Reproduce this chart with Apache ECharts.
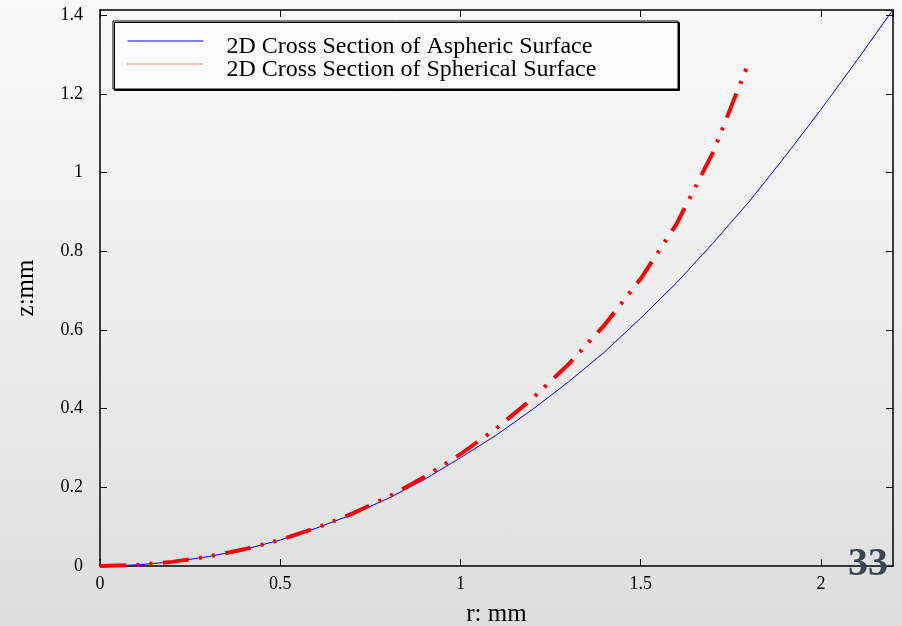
<!DOCTYPE html>
<html>
<head>
<meta charset="utf-8">
<script src="https://cdn.jsdelivr.net/npm/echarts@6/dist/echarts.min.js"></script>
<style>
  html, body { margin: 0; padding: 0; }
  body { width: 902px; height: 626px; background: linear-gradient(to bottom, #f9f9f9 0%, #ececec 55%, #dcdedd 100%); }
  #chart { width: 902px; height: 626px; }
</style>
</head>
<body>
<div id="chart"></div>
<script>
// Radial coordinate r (mm) and sag z (mm) for both surface profiles
const rAspheric = [0, 0.1, 0.2, 0.3, 0.4, 0.5, 0.6, 0.7, 0.8, 0.9, 1.0, 1.1, 1.2, 1.3, 1.4, 1.5, 1.6, 1.7, 1.8, 1.9, 2.0, 2.1, 2.2];
const zAspheric = [0, 0.0026, 0.0105, 0.0237, 0.042, 0.066, 0.096, 0.131, 0.172, 0.22, 0.275, 0.333, 0.398, 0.468, 0.544, 0.63, 0.72, 0.82, 0.925, 1.04, 1.16, 1.285, 1.414];

const rSpherical = [0, 0.1, 0.2, 0.3, 0.4, 0.5, 0.6, 0.7, 0.8, 0.9, 1.0, 1.1, 1.2, 1.3, 1.4, 1.5, 1.6, 1.7, 1.8];
const zSpherical = [0, 0.0026, 0.0105, 0.0237, 0.0424, 0.0665, 0.0967, 0.133, 0.176, 0.226, 0.284, 0.35, 0.426, 0.513, 0.613, 0.73, 0.87, 1.05, 1.28];

const seriesNames = ['2D Cross Section of Aspheric Surface', '2D Cross Section of Spherical Surface'];
const pageNumber = '33';

const serif = '"Liberation Serif", "Times New Roman", serif';
const pairs = (xs, ys) => xs.map((x, i) => [x, ys[i]]);

const chart = echarts.init(document.getElementById('chart'), null, { renderer: 'canvas' });

const axisLine = { show: true, onZero: false, lineStyle: { color: '#000', width: 1.5 } };
const axisTick = { show: true, inside: true, length: 7, lineStyle: { color: '#000', width: 1 } };

chart.setOption({
  backgroundColor: 'transparent',
  animation: false,
  grid: { left: 100, right: 9, top: 10, bottom: 60, containLabel: false, outerBoundsMode: 'none' },
  xAxis: [
    {
      type: 'value', position: 'bottom', min: 0, max: 2.2, interval: 0.5,
      name: 'r: mm', nameLocation: 'middle', nameGap: 36,
      nameTextStyle: { fontFamily: serif, fontSize: 25, color: '#000' },
      axisLine, axisTick,
      axisLabel: { showMaxLabel: false, margin: 9, fontFamily: serif, fontSize: 18, color: '#000' },
      splitLine: { show: false }
    },
    {
      type: 'value', position: 'top', min: 0, max: 2.2, interval: 0.5,
      axisLine, axisTick,
      axisLabel: { show: false }, splitLine: { show: false }
    }
  ],
  yAxis: [
    {
      type: 'value', position: 'left', min: 0, max: 1.413, interval: 0.2,
      name: 'z:mm', nameLocation: 'middle', nameGap: 61, nameRotate: 90,
      nameTextStyle: { fontFamily: serif, fontSize: 25, color: '#000' },
      axisLine, axisTick,
      axisLabel: { showMaxLabel: false, margin: 17, fontFamily: serif, fontSize: 18, color: '#000' },
      splitLine: { show: false }
    },
    {
      type: 'value', position: 'right', min: 0, max: 1.413, interval: 0.2,
      axisLine, axisTick,
      axisLabel: { show: false }, splitLine: { show: false }
    }
  ],
  legend: {
    orient: 'vertical', left: 127, top: 23,
    itemWidth: 76, itemHeight: 14, itemGap: -13,
    padding: 0,
    formatter: '{t|{name}}',
    textStyle: {
      fontFamily: serif, fontSize: 24, color: '#000',
      rich: { t: { fontFamily: serif, fontSize: 24, color: '#000', lineHeight: 9, padding: [12, 0, 0, 18] } }
    },
    data: [
      { name: seriesNames[0], itemStyle: { opacity: 0 }, lineStyle: { color: '#0000ff', width: 1, type: 'solid', opacity: 1 } },
      { name: seriesNames[1], itemStyle: { opacity: 0 }, lineStyle: { color: '#ff0000', width: 1, type: [1, 1], opacity: 1 } }
    ]
  },
  graphic: [
    {
      type: 'rect', z: 0, zlevel: 0,
      shape: { x: 113, y: 21, width: 565, height: 68 },
      style: { fill: '#fcfcfc', stroke: '#000', lineWidth: 1, shadowColor: '#000', shadowOffsetX: 1.5, shadowOffsetY: 1.5, shadowBlur: 0 }
    },
    {
      type: 'text', x: 868, y: 565, z: 10,
      style: { text: pageNumber, fontFamily: serif, fontWeight: 'bold', fontSize: 40, fill: '#3b4550', align: 'center', verticalAlign: 'middle' }
    }
  ],
  series: [
    {
      name: seriesNames[0], type: 'line', symbol: 'none', z: 3,
      xAxisIndex: 0, yAxisIndex: 0,
      data: pairs(rAspheric, zAspheric),
      itemStyle: { color: '#0000ff' },
      lineStyle: { color: '#0000ff', width: 1 }
    },
    {
      name: seriesNames[1], type: 'line', symbol: 'none', z: 4,
      xAxisIndex: 0, yAxisIndex: 0,
      data: pairs(rSpherical, zSpherical),
      itemStyle: { color: '#ff0000' },
      lineStyle: { color: '#ff0000', width: 4, type: [26, 10.5, 3, 10, 3, 10.5], cap: 'butt' }
    }
  ]
});
</script>
</body>
</html>
